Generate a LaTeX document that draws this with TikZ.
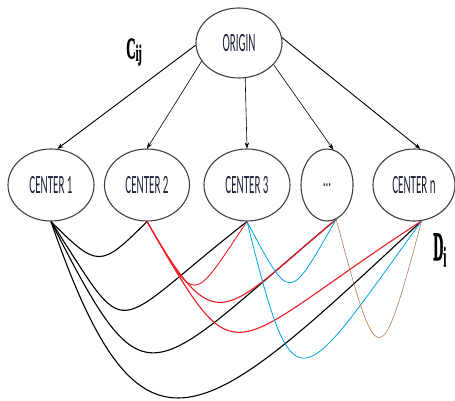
\documentclass[tikz,border=0pt]{standalone}
\usepackage{fontspec}
\setmainfont{Carlito}
\newfontfamily\serifbold{Liberation Serif Bold}[FakeBold=2]
\usetikzlibrary{shapes.geometric,arrows.meta}
\definecolor{ink}{RGB}{30,34,58}
\definecolor{edgered}{RGB}{237,28,36}
\definecolor{edgeblue}{RGB}{0,162,232}
\definecolor{edgebrown}{RGB}{185,122,87}
\newcommand{\tallbox}[2]{\scalebox{1}[#1]{#2}}

\begin{document}
\begin{tikzpicture}[x=1pt,y=1pt]
        \tikzset{site/.style={draw=black!75,line width=1.1pt,ellipse,inner sep=0pt,
                minimum width=86pt,minimum height=72pt,text=ink,
                font=\fontsize{11}{11}\selectfont},
            link/.style={-{Stealth[length=6pt,width=4.5pt]},line width=0.6pt},
            route/.style={line width=1.1pt}}
        \useasboundingbox (0,0) rectangle (455,401);
        % depot and the centers below it
        \node[site,minimum height=70pt] (origin) at (239,358) {\tallbox{2.4}{ORIGIN}};
        \node[site] (c1) at (51,216) {\tallbox{2.4}{CENTER 1}};
        \node[site,minimum width=85pt] (c2) at (147,216) {\tallbox{2.4}{CENTER 2}};
        \node[site] (c3) at (247,216) {\tallbox{2.4}{CENTER 3}};
        \node[site,minimum width=52pt] (dots) at (327,216) {\tallbox{2.4}{...}};
        \node[site,minimum width=82pt] (cn) at (414,216) {\tallbox{2.4}{CENTER n}};
        \node[font=\fontsize{13}{13}\selectfont] (cost) at (134,349)
            {\tallbox{2.3}{\serifbold C\raisebox{-1pt}{\fontsize{10}{10}\selectfont ij}}};
        \node[font=\fontsize{14}{14}\selectfont] (demand) at (440,151)
            {\tallbox{2.9}{\serifbold D\textsubscript{i}}};
        % arcs out of the origin
        \draw[link,line width=0.9pt] (origin.183) -- (c1.80);
        \draw[link] (origin.206) -- (c2.north);
        \draw[link] (origin.-80) -- (c3.north);
        \draw[link] (origin.-32) -- (dots.80);
        \draw[link,line width=0.9pt] (origin.7) -- (cn.80);
        % routes between centers
        \draw[route] (c1.south) to[out=-45,in=-135,out distance=66pt,in distance=66pt] (c2.south);
        \draw[route] (c1.south) to[out=-57,in=-142,out distance=150pt,in distance=180pt] (c3.south);
        \draw[route] (c1.south) to[out=-63,in=-140,out distance=215pt,in distance=250pt] (dots.-75);
        \draw[route] (c1.south) to[out=-71,in=-137,out distance=280pt,in distance=300pt] (cn.-78);
        \draw[route,edgered,line width=0.9pt] (c2.south) to[out=-60,in=-124,out distance=100pt,in distance=100pt] (c3.south);
        \draw[route,edgered] (c2.south) to[out=-60,in=-140,out distance=140pt,in distance=150pt] (dots.-75);
        \draw[route,edgered] (c2.south) to[out=-60,in=-147,out distance=190pt,in distance=240pt] (cn.-78);
        \draw[route,edgeblue,line width=0.8pt] (c3.south) to[out=-62,in=-120,out distance=95pt,in distance=95pt] (dots.-75);
        \draw[route,edgeblue,line width=0.8pt] (c3.south) to[out=-76,in=-126,out distance=200pt,in distance=211pt] (cn.-78);
        \draw[route,edgebrown,line width=0.6pt] (dots.-75) to[out=-75,in=-105,out distance=162pt,in distance=162pt] (cn.-78);
\end{tikzpicture}
\end{document}
